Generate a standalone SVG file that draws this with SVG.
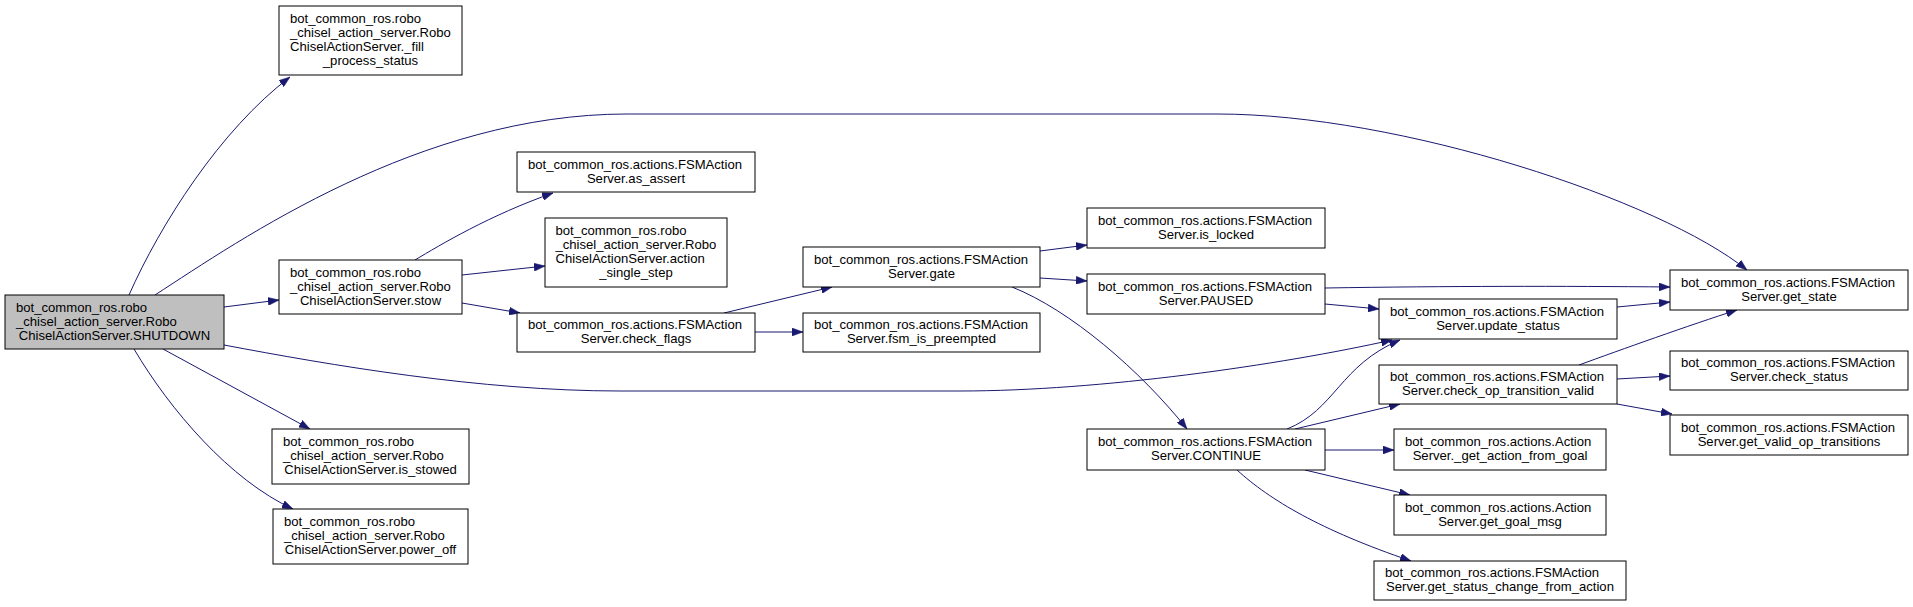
<svg xmlns="http://www.w3.org/2000/svg" width="1913" height="607" viewBox="0 0 1913 607">
<style>
.node rect{fill:#ffffff;stroke:#000000;stroke-width:1}
.node.root rect{fill:#bfbfbf}
.node text{font-family:"Liberation Sans",Arial,Helvetica,sans-serif;font-size:13.1px;fill:#000}
.node text.c{text-anchor:middle}
.edges path{fill:none;stroke:#191970;stroke-width:1;marker-end:url(#ah)}
</style>
<defs>
<marker id="ah" markerUnits="userSpaceOnUse" markerWidth="11" markerHeight="8" viewBox="0 0 11 8" refX="11" refY="4" orient="auto">
<path d="M0,0 L11,4 L0,8 z" fill="#191970" stroke="#191970" stroke-width="0.5"/>
</marker>
</defs>
<rect width="1913" height="607" fill="#ffffff"/>
<g class="edges" id="edges">
<path d="M129,295 C160,225 220,130 290,77"/>
<path d="M155,295 C240,240 420,114 627,114 L1217,114 C1400,114 1660,200 1747,270"/>
<path d="M224,307 L279,300"/>
<path d="M224,345 C330,365 480,391 620,391 L960,391 C1100,391 1280,365 1392,340"/>
<path d="M163,349 L310,429"/>
<path d="M134,349 C170,410 230,480 293,509"/>
<path d="M415,260 C440,245 490,215 553,193"/>
<path d="M462,275 L545,266"/>
<path d="M462,303 L520,313"/>
<path d="M724,313 L832,287"/>
<path d="M755,332 L803,332"/>
<path d="M1040,251 L1087,245"/>
<path d="M1040,278 L1087,281"/>
<path d="M1012,287 C1070,310 1140,370 1187,429"/>
<path d="M1325,288 C1450,286 1560,286 1670,287"/>
<path d="M1325,304 L1379,309"/>
<path d="M1287,429 C1335,410 1340,365 1400,340"/>
<path d="M1295,429 L1400,404"/>
<path d="M1325,450 L1394,450"/>
<path d="M1305,470 L1410,495"/>
<path d="M1237,470 C1270,500 1320,530 1411,561"/>
<path d="M1617,307 L1670,302"/>
<path d="M1579,365 C1620,350 1690,325 1737,310"/>
<path d="M1617,379 L1670,376"/>
<path d="M1617,404 L1672,414"/>
</g>
<g class="node root" id="n_shutdown">
<rect x="5" y="295" width="219" height="54"/>
<text x="16" y="311.5">bot_common_ros.robo</text>
<text x="16" y="325.5">_chisel_action_server.Robo</text>
<text class="c" x="114.5" y="339.5">ChiselActionServer.SHUTDOWN</text>
</g>
<g class="node" id="n_fill_process_status">
<rect x="279" y="6" width="183" height="69"/>
<text x="290" y="22.5">bot_common_ros.robo</text>
<text x="290" y="36.5">_chisel_action_server.Robo</text>
<text x="290" y="50.5">ChiselActionServer._fill</text>
<text class="c" x="370.5" y="64.5">_process_status</text>
</g>
<g class="node" id="n_stow">
<rect x="279" y="260" width="183" height="54"/>
<text x="290" y="276.5">bot_common_ros.robo</text>
<text x="290" y="290.5">_chisel_action_server.Robo</text>
<text class="c" x="370.5" y="304.5">ChiselActionServer.stow</text>
</g>
<g class="node" id="n_is_stowed">
<rect x="272" y="429" width="197" height="55"/>
<text x="283" y="446">bot_common_ros.robo</text>
<text x="283" y="460">_chisel_action_server.Robo</text>
<text class="c" x="370.5" y="474">ChiselActionServer.is_stowed</text>
</g>
<g class="node" id="n_power_off">
<rect x="273" y="509" width="195" height="55"/>
<text x="284" y="526">bot_common_ros.robo</text>
<text x="284" y="540">_chisel_action_server.Robo</text>
<text class="c" x="370.5" y="554">ChiselActionServer.power_off</text>
</g>
<g class="node" id="n_as_assert">
<rect x="517" y="152" width="238" height="40"/>
<text x="528" y="168.5">bot_common_ros.actions.FSMAction</text>
<text class="c" x="636" y="182.5">Server.as_assert</text>
</g>
<g class="node" id="n_action_single_step">
<rect x="545" y="218" width="182" height="69"/>
<text x="555.5" y="235">bot_common_ros.robo</text>
<text x="555.5" y="249">_chisel_action_server.Robo</text>
<text x="555.5" y="263">ChiselActionServer.action</text>
<text class="c" x="636" y="277">_single_step</text>
</g>
<g class="node" id="n_check_flags">
<rect x="517" y="313" width="238" height="39"/>
<text x="528" y="329">bot_common_ros.actions.FSMAction</text>
<text class="c" x="636" y="343">Server.check_flags</text>
</g>
<g class="node" id="n_gate">
<rect x="803" y="247" width="237" height="40"/>
<text x="814" y="263.5">bot_common_ros.actions.FSMAction</text>
<text class="c" x="921.5" y="277.5">Server.gate</text>
</g>
<g class="node" id="n_fsm_is_preempted">
<rect x="803" y="313" width="237" height="39"/>
<text x="814" y="329">bot_common_ros.actions.FSMAction</text>
<text class="c" x="921.5" y="343">Server.fsm_is_preempted</text>
</g>
<g class="node" id="n_is_locked">
<rect x="1087" y="208" width="238" height="40"/>
<text x="1098" y="224.5">bot_common_ros.actions.FSMAction</text>
<text class="c" x="1206" y="238.5">Server.is_locked</text>
</g>
<g class="node" id="n_paused">
<rect x="1087" y="274" width="238" height="40"/>
<text x="1098" y="290.5">bot_common_ros.actions.FSMAction</text>
<text class="c" x="1206" y="304.5">Server.PAUSED</text>
</g>
<g class="node" id="n_continue">
<rect x="1087" y="429" width="238" height="41"/>
<text x="1098" y="446">bot_common_ros.actions.FSMAction</text>
<text class="c" x="1206" y="460">Server.CONTINUE</text>
</g>
<g class="node" id="n_update_status">
<rect x="1379" y="299" width="238" height="40"/>
<text x="1390" y="315.5">bot_common_ros.actions.FSMAction</text>
<text class="c" x="1498" y="329.5">Server.update_status</text>
</g>
<g class="node" id="n_check_op_transition_valid">
<rect x="1379" y="365" width="238" height="39"/>
<text x="1390" y="381">bot_common_ros.actions.FSMAction</text>
<text class="c" x="1498" y="395">Server.check_op_transition_valid</text>
</g>
<g class="node" id="n_get_action_from_goal">
<rect x="1394" y="429" width="212" height="41"/>
<text x="1405" y="446">bot_common_ros.actions.Action</text>
<text class="c" x="1500" y="460">Server._get_action_from_goal</text>
</g>
<g class="node" id="n_get_goal_msg">
<rect x="1394" y="495" width="212" height="40"/>
<text x="1405" y="511.5">bot_common_ros.actions.Action</text>
<text class="c" x="1500" y="525.5">Server.get_goal_msg</text>
</g>
<g class="node" id="n_get_status_change_from_action">
<rect x="1374" y="561" width="252" height="39"/>
<text x="1385" y="577">bot_common_ros.actions.FSMAction</text>
<text class="c" x="1500" y="591">Server.get_status_change_from_action</text>
</g>
<g class="node" id="n_get_state">
<rect x="1670" y="270" width="238" height="40"/>
<text x="1681" y="286.5">bot_common_ros.actions.FSMAction</text>
<text class="c" x="1789" y="300.5">Server.get_state</text>
</g>
<g class="node" id="n_check_status">
<rect x="1670" y="351" width="238" height="39"/>
<text x="1681" y="367">bot_common_ros.actions.FSMAction</text>
<text class="c" x="1789" y="381">Server.check_status</text>
</g>
<g class="node" id="n_get_valid_op_transitions">
<rect x="1670" y="415" width="238" height="40"/>
<text x="1681" y="431.5">bot_common_ros.actions.FSMAction</text>
<text class="c" x="1789" y="445.5">Server.get_valid_op_transitions</text>
</g>
</svg>
